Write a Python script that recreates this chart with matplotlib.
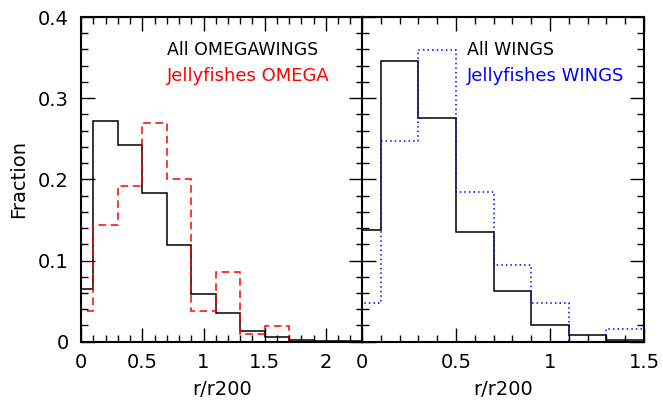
import numpy as np
import matplotlib.pyplot as plt
from matplotlib.ticker import MultipleLocator, FuncFormatter

# bin edges (r/r200)
edges_omega = [0, 0.1, 0.3, 0.5, 0.7, 0.9, 1.1, 1.3, 1.5, 1.7, 1.9, 2.1, 2.3]
edges_wings = [0, 0.1, 0.3, 0.5, 0.7, 0.9, 1.1, 1.3, 1.5]

# fractions
all_omegawings = [0.065, 0.272, 0.242, 0.183, 0.119, 0.059, 0.035, 0.013, 0.006, 0.002, 0.001, 0.001]
jelly_omega = [0.038, 0.144, 0.192, 0.269, 0.201, 0.038, 0.086, 0.010, 0.019, 0.0, 0.0, 0.0]
all_wings = [0.138, 0.346, 0.275, 0.135, 0.062, 0.020, 0.008, 0.002]
jelly_wings = [0.048, 0.247, 0.359, 0.184, 0.095, 0.048, 0.0, 0.016]

fig = plt.figure(figsize=(6.63, 4.05), dpi=100)
ax1 = fig.add_axes([0.1222, 0.1563, 0.4249, 0.8017])
ax2 = fig.add_axes([0.5460, 0.1563, 0.4253, 0.8017])

fmt = FuncFormatter(lambda v, p: '%g' % round(v, 3))

for ax in (ax1, ax2):
    ax.set_ylim(0, 0.4)
    ax.yaxis.set_major_locator(MultipleLocator(0.1))
    ax.yaxis.set_minor_locator(MultipleLocator(0.02))
    ax.xaxis.set_major_locator(MultipleLocator(0.5))
    ax.xaxis.set_minor_locator(MultipleLocator(0.1))
    ax.xaxis.set_major_formatter(fmt)
    ax.yaxis.set_major_formatter(fmt)
    ax.tick_params(which='both', direction='in', top=True, right=True, labelsize=14, width=1)
    ax.tick_params(which='major', length=10)
    ax.tick_params(which='minor', length=5)
    ax.tick_params(axis='x', pad=8)
    ax.tick_params(axis='y', pad=9)
    for s in ax.spines.values():
        s.set_linewidth(1.5)
    ax.set_xlabel('r/r200', fontsize=14, labelpad=6)

ax1.set_xlim(0, 2.3)
ax2.set_xlim(0, 1.5)
ax2.tick_params(labelleft=False)
ax1.set_ylabel('Fraction', fontsize=14, labelpad=7)

ax1.stairs(all_omegawings, edges_omega, color='black', lw=1.1)
ax1.stairs(jelly_omega, edges_omega, color='red', lw=1.1, linestyle=(0, (5, 3)))
ax2.stairs(all_wings, edges_wings, color='black', lw=1.1)
ax2.stairs(jelly_wings, edges_wings, color='blue', lw=1.1, linestyle=(0, (1, 2)))

ax1.text(0.305, 0.8975, 'All OMEGAWINGS', transform=ax1.transAxes, color='black', fontsize=12.5, va='center')
ax1.text(0.305, 0.8175, 'Jellyfishes OMEGA', transform=ax1.transAxes, color='red', fontsize=13, va='center')
ax2.text(0.371, 0.8975, 'All WINGS', transform=ax2.transAxes, color='black', fontsize=12.5, va='center')
ax2.text(0.371, 0.8175, 'Jellyfishes WINGS', transform=ax2.transAxes, color='blue', fontsize=13, va='center')

fig.savefig('out.png', dpi=100)
